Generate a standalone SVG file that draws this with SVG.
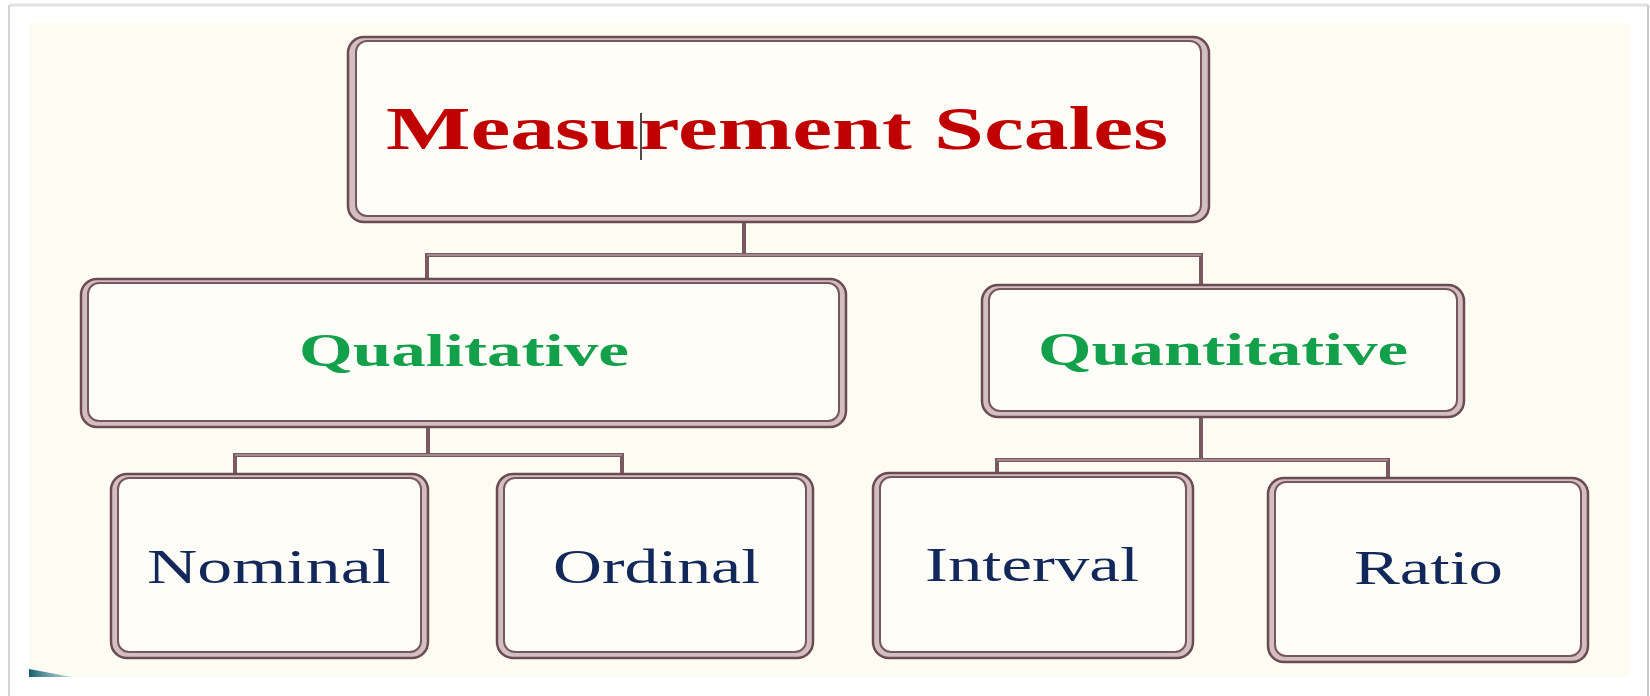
<svg xmlns="http://www.w3.org/2000/svg" width="1650" height="696" viewBox="0 0 1650 696">
<style>
.outer{fill:#d3bfc2;stroke:#6b4b52;stroke-width:2.5}
.inner{fill:#fffdf8;stroke:#77575e;stroke-width:2}
.conn{stroke:#7a5a60;stroke-width:4;fill:none;stroke-linecap:square}
.connhi{stroke:#cdb9bc;stroke-width:1.2;fill:none}
.title{font-family:"Liberation Serif",serif;font-weight:bold;font-size:62px;fill:#c00000}
.mid{font-family:"Liberation Serif",serif;font-weight:bold;font-size:47px;fill:#12a04a}
.leaf{font-family:"Liberation Serif",serif;font-size:48px;fill:#13285a}
</style>
<defs>
<linearGradient id="teal" x1="0" y1="0" x2="1" y2="0">
<stop offset="0" stop-color="#125f6e"/>
<stop offset="1" stop-color="#5f9ea8" stop-opacity="0.4"/>
</linearGradient>
</defs>
<rect x="0" y="0" width="1650" height="696" fill="#ffffff"/>
<line x1="10" y1="5" x2="1648" y2="5" stroke="#e2e2e2" stroke-width="3"/>
<line x1="9" y1="5" x2="9" y2="696" stroke="#d4d4d4" stroke-width="2"/>
<line x1="1648" y1="5" x2="1648" y2="696" stroke="#c9c9c9" stroke-width="2"/>
<rect x="29" y="23" width="1601" height="654" fill="#fcfcf3"/>
<polygon points="29,669 72,677 29,677" fill="url(#teal)"/>

<g id="connectors">
<path class="conn" d="M744 222 V255 M427 255 H1201 M427 255 V279 M1201 255 V285"/>
<path class="conn" d="M428 427 V455 M235 455 H622 M235 455 V474 M622 455 V474"/>
<path class="conn" d="M1201 417 V460 M997 460 H1388 M997 460 V473 M1388 460 V478"/>
<path class="connhi" d="M427 255 H1201 M235 455 H622 M997 460 H1388"/>
</g>

<g id="measurement-scales">
<rect class="outer" x="348" y="37" width="861" height="185" rx="16"/>
<rect class="inner" x="356" y="41" width="845" height="175" rx="11"/>
<text class="title" x="386" y="149" textLength="782" lengthAdjust="spacingAndGlyphs">Measurement Scales</text>
<line x1="641" y1="113" x2="641" y2="160" stroke="#111111" stroke-width="1.5"/>
</g>

<g id="qualitative">
<rect class="outer" x="81" y="279" width="765" height="148" rx="16"/>
<rect class="inner" x="88" y="283" width="751" height="138" rx="11"/>
<text class="mid" x="299" y="366" textLength="330" lengthAdjust="spacingAndGlyphs">Qualitative</text>
</g>

<g id="quantitative">
<rect class="outer" x="982" y="285" width="482" height="132" rx="16"/>
<rect class="inner" x="989" y="289" width="468" height="122" rx="11"/>
<text class="mid" x="1038" y="365" textLength="370" lengthAdjust="spacingAndGlyphs">Quantitative</text>
</g>

<g id="nominal">
<rect class="outer" x="111" y="474" width="317" height="184" rx="16"/>
<rect class="inner" x="118" y="478" width="303" height="174" rx="11"/>
<text class="leaf" x="147" y="583" textLength="244" lengthAdjust="spacingAndGlyphs">Nominal</text>
</g>

<g id="ordinal">
<rect class="outer" x="497" y="474" width="316" height="184" rx="16"/>
<rect class="inner" x="504" y="478" width="302" height="174" rx="11"/>
<text class="leaf" x="553" y="583" textLength="207" lengthAdjust="spacingAndGlyphs">Ordinal</text>
</g>

<g id="interval">
<rect class="outer" x="873" y="473" width="320" height="185" rx="16"/>
<rect class="inner" x="880" y="477" width="306" height="175" rx="11"/>
<text class="leaf" x="925" y="581" textLength="214" lengthAdjust="spacingAndGlyphs">Interval</text>
</g>

<g id="ratio">
<rect class="outer" x="1268" y="478" width="320" height="184" rx="16"/>
<rect class="inner" x="1275" y="482" width="306" height="174" rx="11"/>
<text class="leaf" x="1354" y="584" textLength="149" lengthAdjust="spacingAndGlyphs">Ratio</text>
</g>
</svg>
